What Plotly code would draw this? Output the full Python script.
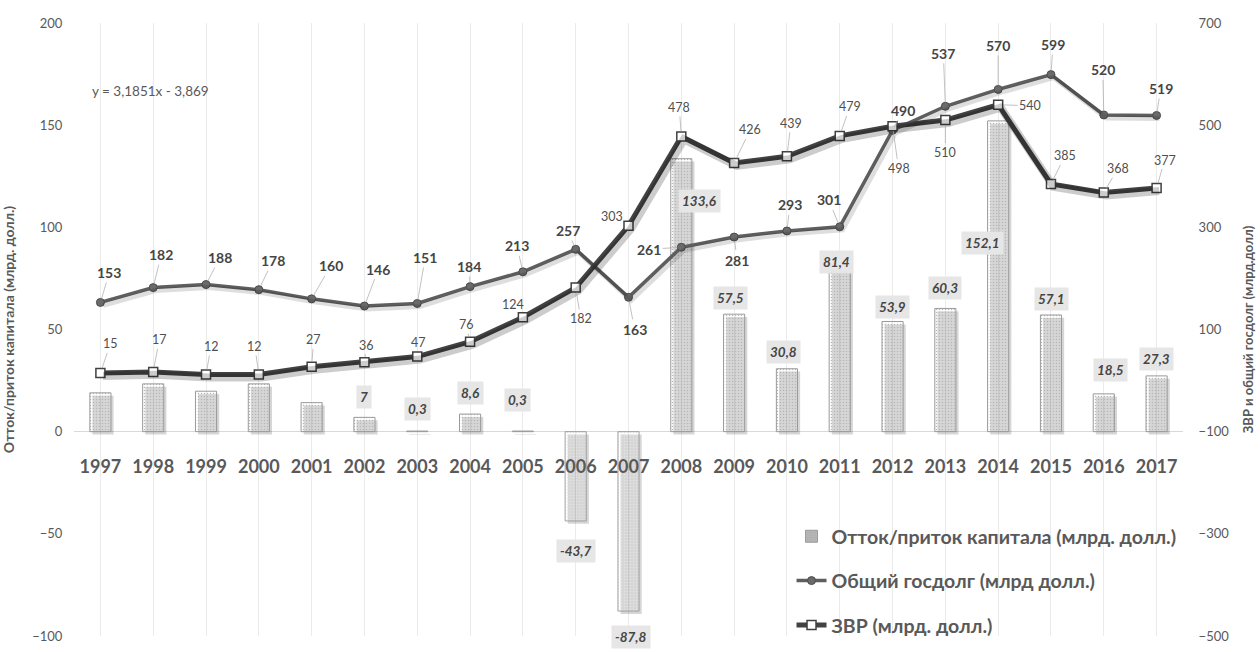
import plotly.graph_objects as go

# ---------------- data ----------------
years = ["1997", "1998", "1999", "2000", "2001", "2002", "2003", "2004", "2005", "2006", "2007",
         "2008", "2009", "2010", "2011", "2012", "2013", "2014", "2015", "2016", "2017"]
capital_flow = [19.0, 23.4, 19.8, 23.4, 14.2, 7, 0.3, 8.6, 0.3, -43.7, -87.8,
                133.6, 57.5, 30.8, 81.4, 53.9, 60.3, 152.1, 57.1, 18.5, 27.3]
flow_labels = ["", "", "", "", "", "7", "0,3", "8,6", "0,3", "-43,7", "-87,8",
               "133,6", "57,5", "30,8", "81,4", "53,9", "60,3", "152,1", "57,1", "18,5", "27,3"]
gov_debt = [153, 182, 188, 178, 160, 146, 151, 184, 213, 257, 163,
            261, 281, 293, 301, 490, 537, 570, 599, 520, 519]
reserves = [15, 17, 12, 12, 27, 36, 47, 76, 124, 182, 303,
            478, 426, 439, 479, 498, 510, 540, 385, 368, 377]
left_ticks = [-100, -50, 0, 50, 100, 150, 200]
right_ticks = [-500, -300, -100, 100, 300, 500, 700]
trend_text = "y = 3,1851x - 3,869"

name_flow = "Отток/приток капитала (млрд. долл.)"
name_debt = "Общий госдолг (млрд долл.)"
name_res = "ЗВР (млрд. долл.)"
title_left = "Отток/приток капитала (млрд. долл.)"
title_right = "ЗВР и общий госдолг (млрд.долл)"

# ---------------- label placement (pixel offsets, style only) ----------------
debt_dx = [9, 8, 14, 14, 19, 14, 8, -1, -6, -8, 6, -32, 3, 3, -11, 10, -2, 0, 2, -1, 4]
debt_dy = [-30, -33, -27, -29, -33, -37, -46, -20, -26, -19, 32, 2, 23, -26, -27, -20, -53, -44, -30, -45, -27]
res_dx = [10, 6, 5, -4, 2, 2, 1, -4, -10, 5, -17, -2, 16, 4, 10, 6, 0, 32, 14, 14, 8]
res_dy = [-29, -32, -28, -28, -27, -17, -14, -17, -13, 31, -9, -29, -33, -33, -29, 42, 32, 1, -28, -24, -28]
bar_dx = [0, 0, 0, 0, 0, 0, 0, 0, -5, 0, 2, 18, -4, -3, -3, 0, 0, -16, 1, 7, 0]
bar_dy = [0, 0, 0, 0, 0, -20, -22, -21, -31, 30, 26, 42, -16, -17, -3, -15, -20, 122, -16, -24, -17]

FONT = "Lato, 'Open Sans', sans-serif"
GREY_TXT = "#595959"

pos_fill, neg_fill = "#b6b6b6", "#e4e4e4"
pos_dot, neg_dot = "#a4a4a4", "#d4d4d4"
bar_fill = [pos_fill if v >= 0 else neg_fill for v in capital_flow]
bar_dot = [pos_dot if v >= 0 else neg_dot for v in capital_flow]
bar_edge = ["#9a9a9a" if v >= 0 else "#a0a0a0" for v in capital_flow]

fig = go.Figure()

# bar shadows (shifted via offset and base)
fig.add_trace(go.Bar(
    x=years, y=capital_flow, base=-1.4, width=0.4, offset=-0.15,
    marker=dict(color="rgba(0,0,0,0.16)", line=dict(width=0)),
    showlegend=False, hoverinfo="skip", yaxis="y"))

fig.add_trace(go.Bar(
    x=years, y=capital_flow, width=0.4, name=name_flow, legendgroup="a",
    marker=dict(color=bar_fill, line=dict(color=bar_edge, width=1),
                pattern=dict(shape=".", size=3, solidity=0.2, fgcolor=bar_dot, bgcolor=bar_fill,
                             fillmode="replace")),
    yaxis="y"))

# line shadows on slightly shifted overlay axes
fig.add_trace(go.Scatter(
    x=years, y=gov_debt, mode="lines", line=dict(color="rgba(0,0,0,0.13)", width=5),
    showlegend=False, hoverinfo="skip", xaxis="x2", yaxis="y3"))
fig.add_trace(go.Scatter(
    x=years, y=reserves, mode="lines", line=dict(color="rgba(0,0,0,0.2)", width=8),
    showlegend=False, hoverinfo="skip", xaxis="x2", yaxis="y3"))

fig.add_trace(go.Scatter(
    x=years, y=gov_debt, mode="lines+markers", name=name_debt, legendgroup="b",
    line=dict(color="#5e5e5e", width=3.5),
    marker=dict(symbol="circle", size=8, color="#6a6a6a", line=dict(color="#4d4d4d", width=1)),
    yaxis="y2"))
fig.add_trace(go.Scatter(
    x=years, y=reserves, mode="lines+markers", name=name_res, legendgroup="c",
    line=dict(color="#424242", width=5),
    marker=dict(symbol="square", size=9, color="#ffffff", line=dict(color="#404040", width=1.5)),
    yaxis="y2"))

ann = []
for i in range(len(years)):
    # category index i is the position of years[i] on the category axis
    ann.append(dict(x=i, y=gov_debt[i], xref="x", yref="y2", text=str(gov_debt[i]),
                    showarrow=True, ax=debt_dx[i], ay=debt_dy[i], arrowhead=0, arrowwidth=0.7,
                    arrowcolor="#a6a6a6", standoff=4,
                    font=dict(family=FONT, size=14, color="#454545", weight="bold")))
    ann.append(dict(x=i, y=reserves[i], xref="x", yref="y2", text=str(reserves[i]),
                    showarrow=True, ax=res_dx[i], ay=res_dy[i], arrowhead=0, arrowwidth=0.7,
                    arrowcolor="#a6a6a6", standoff=5,
                    font=dict(family=FONT, size=12.5, color="#4f4f4f")))
    if flow_labels[i]:
        ann.append(dict(x=i, y=capital_flow[i], xref="x", yref="y", text=flow_labels[i],
                        showarrow=False, xshift=bar_dx[i], yshift=-bar_dy[i],
                        bgcolor="#e6e6e6", borderpad=3,
                        font=dict(family=FONT, size=13.5, color="#454545", weight="bold", style="italic")))

ann.append(dict(x=0.0142, y=0.8897, xref="paper", yref="paper", xanchor="left", yanchor="middle",
                text=trend_text, showarrow=False, font=dict(family=FONT, size=13.5, color=GREY_TXT)))

fig.update_layout(
    width=1260, height=652,
    margin=dict(l=72, r=64, t=23, b=7),
    paper_bgcolor="white", plot_bgcolor="white",
    barmode="overlay",
    font=dict(family=FONT, color=GREY_TXT),
    showlegend=True,
    legend=dict(x=0.647, y=0.194, xanchor="left", yanchor="top",
                traceorder="grouped", tracegroupgap=16, itemwidth=30,
                bgcolor="rgba(255,255,255,0)",
                font=dict(family=FONT, size=19.5, color="#595959", weight="bold")),
    xaxis=dict(type="category", range=[-0.5, 20.5], anchor="free", position=1/3,
               showgrid=True, gridcolor="#ebebeb", gridwidth=1,
               showline=False, ticks="outside", ticklen=19, tickcolor="rgba(0,0,0,0)",
               tickfont=dict(family=FONT, size=18, color=GREY_TXT, weight="bold")),
    xaxis2=dict(type="category", range=[-0.5 - 0.05, 20.5 - 0.05], overlaying="x", visible=False),
    yaxis=dict(range=[-100, 200], tickmode="array", tickvals=left_ticks,
               showgrid=False, zeroline=True, zerolinecolor="#d9d9d9", zerolinewidth=1,
               ticks="outside", ticklen=8, tickcolor="rgba(0,0,0,0)",
               tickfont=dict(family=FONT, size=13, color=GREY_TXT),
               title=dict(text=title_left, font=dict(family=FONT, size=14, color=GREY_TXT, weight="bold"))),
    yaxis2=dict(range=[-500, 700], overlaying="y", side="right", tickmode="array", tickvals=right_ticks,
                showgrid=False, zeroline=False,
                ticks="outside", ticklen=12, tickcolor="rgba(0,0,0,0)",
                tickfont=dict(family=FONT, size=13, color=GREY_TXT),
                title=dict(text=title_right, font=dict(family=FONT, size=13, color=GREY_TXT, weight="bold"))),
    yaxis3=dict(range=[-500 + 5.8, 700 + 5.8], overlaying="y", visible=False),
    annotations=ann,
)

fig.write_html("out.html")
